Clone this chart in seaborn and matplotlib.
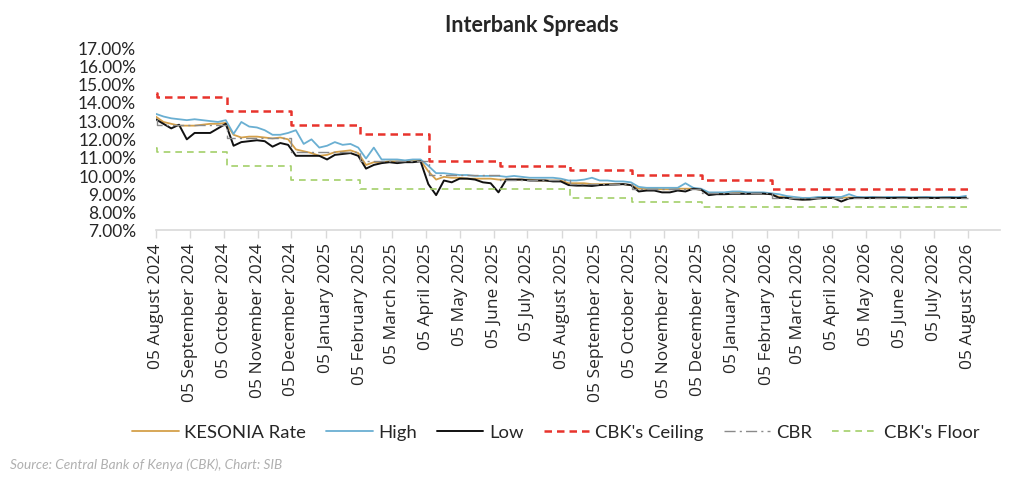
import pandas as pd
import matplotlib.pyplot as plt
import matplotlib.dates as mdates
from matplotlib.ticker import FixedLocator, FuncFormatter
import seaborn as sns

# ---------------------------------------------
# DATA (weekly)
# ---------------------------------------------
weeks = pd.date_range("2024-08-05", periods=105, freq="7D")

kesonia = [
    13.20, 12.90, 12.80, 12.70, 12.70, 12.70, 12.75, 12.80, 12.80, 12.85,
    12.20, 12.05, 12.10, 12.10, 12.05, 12.00, 12.05, 11.95, 11.40, 11.30,
    11.20, 11.05, 11.10, 11.25, 11.30, 11.35, 11.20, 10.55, 10.70, 10.70,
    10.75, 10.75, 10.75, 10.80, 10.80, 10.20, 9.75, 9.90, 9.85, 9.85,
    9.80, 9.80, 9.80, 9.80, 9.75, 9.75, 9.75, 9.75, 9.75, 9.70,
    9.70, 9.70, 9.70, 9.55, 9.55, 9.55, 9.50, 9.50, 9.50, 9.50,
    9.50, 9.45, 9.25, 9.25, 9.25, 9.22, 9.22, 9.25, 9.25, 9.25,
    9.20, 9.00, 9.00, 9.00, 9.00, 9.02, 9.00, 9.00, 9.00, 8.95,
    8.80, 8.78, 8.70, 8.67, 8.68, 8.75, 8.76, 8.76, 8.76, 8.77,
    8.76, 8.76, 8.76, 8.77, 8.76, 8.76, 8.77, 8.76, 8.76, 8.77,
    8.76, 8.76, 8.77, 8.76, 8.78,
]
high = [
    13.35, 13.20, 13.10, 13.05, 13.00, 13.05, 13.00, 12.95, 12.90, 13.00,
    12.25, 12.90, 12.65, 12.60, 12.45, 12.20, 12.20, 12.30, 12.45, 11.70,
    11.95, 11.50, 11.60, 11.80, 11.65, 11.70, 11.50, 10.90, 11.50, 10.85,
    10.85, 10.85, 10.80, 10.85, 10.85, 10.50, 10.10, 10.10, 10.05, 10.00,
    10.00, 9.95, 9.95, 9.95, 9.95, 9.90, 9.95, 9.90, 9.85, 9.85,
    9.85, 9.85, 9.80, 9.70, 9.70, 9.75, 9.85, 9.70, 9.70, 9.65,
    9.65, 9.60, 9.35, 9.30, 9.30, 9.30, 9.30, 9.30, 9.55, 9.30,
    9.25, 9.05, 9.05, 9.05, 9.10, 9.10, 9.05, 9.05, 9.05, 9.00,
    8.95, 8.85, 8.80, 8.75, 8.75, 8.80, 8.80, 8.80, 8.80, 8.95,
    8.80, 8.79, 8.80, 8.78, 8.80, 8.79, 8.80, 8.78, 8.79, 8.80,
    8.78, 8.79, 8.80, 8.79, 8.86,
]
low = [
    13.05, 12.80, 12.55, 12.75, 11.95, 12.30, 12.30, 12.30, 12.55, 12.80,
    11.60, 11.80, 11.85, 11.90, 11.85, 11.55, 11.75, 11.65, 11.05, 11.05,
    11.05, 11.05, 10.85, 11.10, 11.15, 11.20, 11.05, 10.35, 10.55, 10.65,
    10.70, 10.65, 10.70, 10.70, 10.75, 9.50, 8.90, 9.70, 9.60, 9.80,
    9.80, 9.75, 9.60, 9.55, 9.05, 9.75, 9.75, 9.75, 9.70, 9.70,
    9.70, 9.65, 9.65, 9.45, 9.42, 9.42, 9.40, 9.45, 9.47, 9.48,
    9.50, 9.45, 9.10, 9.15, 9.15, 9.05, 9.05, 9.15, 9.10, 9.25,
    9.20, 8.90, 8.95, 8.95, 8.97, 8.97, 8.97, 8.98, 8.98, 8.95,
    8.75, 8.75, 8.68, 8.65, 8.66, 8.72, 8.74, 8.74, 8.55, 8.72,
    8.75, 8.74, 8.75, 8.75, 8.74, 8.75, 8.75, 8.74, 8.75, 8.75,
    8.74, 8.75, 8.75, 8.74, 8.76,
]

# policy corridor (step series)
policy_dates = pd.to_datetime([
    "2024-08-05", "2024-08-06", "2024-10-08", "2024-12-05", "2025-02-05",
    "2025-04-08", "2025-06-10", "2025-08-12", "2025-10-07", "2025-12-09",
    "2026-02-10", "2026-08-05",
])
ceiling = [14.50, 14.25, 13.50, 12.75, 12.25, 10.75, 10.50, 10.25, 10.00, 9.75, 9.25, 9.25]
cbr     = [13.00, 12.75, 12.00, 11.25, 10.75, 10.00, 9.75, 9.50, 9.25, 9.00, 8.75, 8.75]
floor_  = [11.50, 11.25, 10.50, 9.75, 9.25, 9.25, 9.25, 8.75, 8.50, 8.25, 8.25, 8.25]

y_ticks = [7, 8, 9, 10, 11, 12, 13, 14, 15, 16, 17]

# ---------------------------------------------
# PLOT
# ---------------------------------------------
sns.set_theme(style="white")
plt.rcParams["font.family"] = ["Lato", "DejaVu Sans"]

fig = plt.figure(figsize=(10.24, 4.85), dpi=100)
ax = fig.add_axes([0.152, 0.524, 0.825, 0.377])

sns.lineplot(x=weeks, y=kesonia, ax=ax, color="#D4A04A", lw=1.3, label="KESONIA Rate")
sns.lineplot(x=weeks, y=high, ax=ax, color="#6AAFD2", lw=1.3, label="High")
sns.lineplot(x=weeks, y=low, ax=ax, color="#111111", lw=1.4, label="Low")
sns.lineplot(x=policy_dates, y=ceiling, ax=ax, color="#E8332C", lw=1.8,
             linestyle=(0, (3, 2)), drawstyle="steps-post", label="CBK's Ceiling")
sns.lineplot(x=policy_dates, y=cbr, ax=ax, color="#8A8A8A", lw=1.0,
             linestyle=(0, (8, 3, 1.5, 3)), drawstyle="steps-post", label="CBR")
sns.lineplot(x=policy_dates, y=floor_, ax=ax, color="#A3CF6A", lw=1.2,
             linestyle=(0, (4, 3)), drawstyle="steps-post", label="CBK's Floor")

ax.set_ylim(7, 17)
ax.set_xlim(pd.Timestamp("2024-08-05"), pd.Timestamp("2026-09-03"))
ax.yaxis.set_major_locator(FixedLocator(y_ticks))
ax.yaxis.set_major_formatter(FuncFormatter(lambda v, p: f"{v:.2f}%"))
ax.xaxis.set_major_locator(mdates.MonthLocator(bymonthday=5))
ax.xaxis.set_major_formatter(mdates.DateFormatter("%d %B %Y"))

for lab in ax.get_xticklabels():
    lab.set_rotation(90)
    lab.set_family(["Open Sans", "DejaVu Sans"])
    lab.set_fontsize(12.5)
ax.tick_params(axis="x", length=6, width=1, color="#d9d9d9", pad=3, bottom=True)
ax.tick_params(axis="y", length=0, pad=14, labelsize=12.5)
ax.set_xlabel("")
ax.set_ylabel("")

sns.despine(ax=ax, left=True)
ax.spines["bottom"].set_color("#d9d9d9")
ax.spines["bottom"].set_linewidth(1.2)
ax.grid(False)

handles, labels = ax.get_legend_handles_labels()
ax.get_legend().remove()
fig.legend(handles, labels, loc="center", bbox_to_anchor=(0.543, 0.107), ncol=6,
           frameon=False, fontsize=13.3, handlelength=2.5, handletextpad=0.3,
           columnspacing=1.1)

fig.text(0.519, 0.947, "Interbank Spreads", ha="center", va="center",
         fontsize=15.5, fontweight="bold")
fig.text(0.010, 0.041, "Source: Central Bank of Kenya (CBK), Chart: SIB", ha="left",
         va="center", fontsize=9.8, style="italic", color="#b0b0b0")

fig.savefig("out.png", dpi=100)
